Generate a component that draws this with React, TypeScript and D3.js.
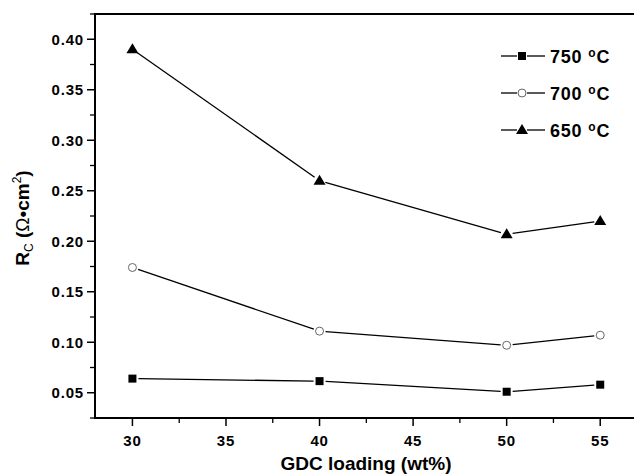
import React, { useEffect, useRef } from 'react';
import * as d3 from 'd3';

const loading = [30, 40, 50, 55];
const r750 = [0.064, 0.0615, 0.051, 0.058];
const r700 = [0.174, 0.111, 0.097, 0.107];
const r650 = [0.39, 0.26, 0.207, 0.22];
const seriesNames = ['750', '700', '650'];
const yTicks = [0.05, 0.1, 0.15, 0.2, 0.25, 0.3, 0.35, 0.4];
const xTicks = [30, 35, 40, 45, 50, 55];

const App = () => {
  const ref = useRef<SVGSVGElement | null>(null);

  useEffect(() => {
    const width = 634;
    const height = 474;
    const left = 95;
    const top = 14;
    const bottom = 418;
    const right = 647;
    const font = 'Liberation Sans, Arial, sans-serif';

    const svg = d3.select(ref.current);
    svg.selectAll('*').remove();
    svg.attr('width', width).attr('height', height);

    const x = d3.scaleLinear().domain([28, 57.5]).range([left, right]);
    const y = d3.scaleLinear().domain([0.025, 0.425]).range([bottom, top]);

    // frame
    svg.append('rect')
      .attr('x', left).attr('y', top)
      .attr('width', right - left).attr('height', bottom - top)
      .attr('fill', 'none').attr('stroke', '#000').attr('stroke-width', 2);

    // y axis ticks
    const minorY = d3.range(0.025, 0.426, 0.05);
    svg.append('g').selectAll('line.minor').data(minorY).enter().append('line')
      .attr('x1', left - 5).attr('x2', left)
      .attr('y1', (d) => y(d)).attr('y2', (d) => y(d))
      .attr('stroke', '#000').attr('stroke-width', 1.3);
    svg.append('g').selectAll('line').data(yTicks).enter().append('line')
      .attr('x1', left - 8).attr('x2', left)
      .attr('y1', (d) => y(d)).attr('y2', (d) => y(d))
      .attr('stroke', '#000').attr('stroke-width', 1.5);
    svg.append('g').selectAll('text').data(yTicks).enter().append('text')
      .attr('x', left - 11).attr('y', (d) => y(d) + 5.5)
      .attr('text-anchor', 'end')
      .attr('font-family', font).attr('font-weight', 'bold').attr('font-size', 15)
      .attr('letter-spacing', 0.8)
      .text((d) => d3.format('.2f')(d));

    // x axis ticks
    const minorX = [32.5, 37.5, 42.5, 47.5, 52.5, 57.5];
    svg.append('g').selectAll('line').data(minorX).enter().append('line')
      .attr('x1', (d) => x(d)).attr('x2', (d) => x(d))
      .attr('y1', bottom).attr('y2', bottom + 5)
      .attr('stroke', '#000').attr('stroke-width', 1.3);
    svg.append('g').selectAll('line').data(xTicks).enter().append('line')
      .attr('x1', (d) => x(d)).attr('x2', (d) => x(d))
      .attr('y1', bottom).attr('y2', bottom + 8)
      .attr('stroke', '#000').attr('stroke-width', 1.5);
    svg.append('g').selectAll('text').data(xTicks).enter().append('text')
      .attr('x', (d) => x(d)).attr('y', bottom + 28)
      .attr('text-anchor', 'middle')
      .attr('font-family', font).attr('font-weight', 'bold').attr('font-size', 15)
      .attr('letter-spacing', 0.8)
      .text((d) => d);

    // axis titles
    svg.append('text')
      .attr('x', 366).attr('y', 470)
      .attr('text-anchor', 'middle')
      .attr('font-family', font).attr('font-weight', 'bold').attr('font-size', 19)
      .text('GDC loading (wt%)');

    const yt = svg.append('text')
      .attr('transform', 'translate(29, 218) rotate(-90)')
      .attr('text-anchor', 'middle')
      .attr('font-family', font).attr('font-weight', 'bold').attr('font-size', 19);
    yt.append('tspan').text('R');
    yt.append('tspan').attr('font-size', 12).attr('font-weight', 'normal').attr('dy', 4).text('C');
    yt.append('tspan').attr('dy', -4).text(' (');
    yt.append('tspan').attr('font-weight', 'normal').text('Ω');
    yt.append('tspan').text('•cm');
    yt.append('tspan').attr('font-size', 12).attr('font-weight', 'normal').attr('dy', -8).text('2');
    yt.append('tspan').attr('dy', 8).text(')');

    // markers
    const drawMarker = (g: any, kind: number, cx: number, cy: number) => {
      if (kind === 0) {
        g.append('rect').attr('x', cx - 4).attr('y', cy - 4).attr('width', 8).attr('height', 8).attr('fill', '#000');
      } else if (kind === 1) {
        g.append('circle').attr('cx', cx).attr('cy', cy).attr('r', 4)
          .attr('fill', '#fff').attr('stroke', '#666').attr('stroke-width', 1);
      } else {
        g.append('path')
          .attr('d', `M${cx},${cy - 6}L${cx + 6},${cy + 4}L${cx - 6},${cy + 4}Z`)
          .attr('fill', '#000');
      }
    };

    const allSeries = [r750, r700, r650];
    allSeries.forEach((vals, k) => {
      const g = svg.append('g');
      const pts = loading.map((l, i) => [x(l), y(vals[i])]);
      for (let i = 0; i < pts.length - 1; i++) {
        const [x0, y0] = pts[i];
        const [x1, y1] = pts[i + 1];
        const len = Math.hypot(x1 - x0, y1 - y0);
        const gap = 6;
        const ux = (x1 - x0) / len;
        const uy = (y1 - y0) / len;
        g.append('line')
          .attr('x1', x0 + ux * gap).attr('y1', y0 + uy * gap)
          .attr('x2', x1 - ux * gap).attr('y2', y1 - uy * gap)
          .attr('stroke', '#000').attr('stroke-width', 1.3);
      }
      pts.forEach(([px, py]) => drawMarker(g, k, px, py));
    });

    // legend
    const legendY = [56, 93, 130];
    seriesNames.forEach((name, k) => {
      const g = svg.append('g');
      const ly = legendY[k];
      g.append('line').attr('x1', 501).attr('x2', 517).attr('y1', ly).attr('y2', ly)
        .attr('stroke', '#000').attr('stroke-width', 1.3);
      g.append('line').attr('x1', 527).attr('x2', 545).attr('y1', ly).attr('y2', ly)
        .attr('stroke', '#000').attr('stroke-width', 1.3);
      drawMarker(g, k, 522, ly);
      const t = g.append('text')
        .attr('x', 550).attr('y', ly + 6.5)
        .attr('font-family', font).attr('font-weight', 'bold').attr('font-size', 18)
        .attr('letter-spacing', 0.8);
      t.append('tspan').text(name + ' ');
      t.append('tspan').attr('font-size', 12).attr('dy', -6).text('o');
      t.append('tspan').attr('dy', 6).text('C');
    });
  }, []);

  return (
    <svg ref={ref} style={{ position: 'absolute', left: 0, top: 0, background: '#fff' }} />
  );
};

export default App;
